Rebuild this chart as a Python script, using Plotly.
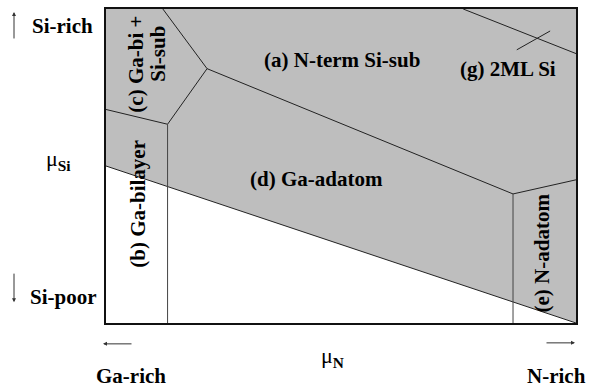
import plotly.graph_objects as go

# Phase diagram boundaries (mu_N on x, mu_Si on y, normalized units)
gray_region_x = [0.0, 1.0, 1.0, 0.0]
gray_region_y = [0.50, 0.0, 1.0, 1.0]

lower_x = [0.0, 1.0]
lower_y = [0.50, 0.0]

b_d_x = [0.131, 0.131]
b_d_y = [0.0, 0.633]

b_c_x = [0.0, 0.131, 0.215, 0.121]
b_c_y = [0.680, 0.633, 0.810, 1.0]

a_d_x = [0.215, 0.866, 1.0]
a_d_y = [0.810, 0.411, 0.456]

d_e_x = [0.866, 0.866]
d_e_y = [0.0, 0.411]

a_g_x = [0.760, 1.0]
a_g_y = [1.0, 0.858]

cross_x = [0.874, 0.945]
cross_y = [0.870, 0.930]

FONT = "Liberation Serif, Times New Roman, Times, serif"
W, H = 591, 389
L, T, R, B = 106, 7, 576, 323


def px(x, y):
    return (x - L) / (R - L), (B - y) / (B - T)


fig = go.Figure()
fig.add_trace(go.Scatter(x=gray_region_x, y=gray_region_y, fill="toself",
                         fillcolor="rgb(190,190,190)", line=dict(width=0),
                         mode="lines", hoverinfo="skip"))
line_style = dict(color="#222222", width=1)
for xs, ys in [(lower_x, lower_y), (b_c_x, b_c_y), (a_d_x, a_d_y),
               (a_g_x, a_g_y), (cross_x, cross_y)]:
    fig.add_trace(go.Scatter(x=xs, y=ys, mode="lines", line=line_style,
                             hoverinfo="skip"))
for xs, ys in [(b_d_x, b_d_y), (d_e_x, d_e_y)]:
    fig.add_trace(go.Scatter(x=xs, y=ys, mode="lines", hoverinfo="skip",
                             line=dict(color="#444444", width=1)))

annotations = []


def text(s, x, y, size=21, angle=0, bold=True):
    xp, yp = px(x, y)
    annotations.append(dict(text=("<b>%s</b>" % s) if bold else s,
                            x=xp, y=yp, xref="paper", yref="paper",
                            showarrow=False, textangle=angle,
                            font=dict(family=FONT, size=size, color="black"),
                            xanchor="center", yanchor="middle"))


text("(a) N-term Si-sub", 342, 58)
text("(g) 2ML Si", 508, 67)
text("(d) Ga-adatom", 316, 178)
text("(c) Ga-bi +", 136, 63, angle=-90)
text("Si-sub", 158, 52, angle=-90)
text("(b) Ga-bilayer", 138, 203, angle=-90)
text("(e) N-adatom", 542, 253, angle=-90)

text("Si-rich", 62, 24)
text("Si-poor", 63, 297)
text("μ<sub><b>Si</b></sub>", 58, 159, size=22, bold=False)
text("μ<sub><b>N</b></sub>", 332, 357, size=22, bold=False)
text("Ga-rich", 131, 376)
text("N-rich", 556, 376)


def arrow(x0, y0, x1, y1):
    xb, yb = px(x1, y1)
    annotations.append(dict(x=xb, y=yb, ax=x0 - x1, ay=y0 - y1,
                            xref="paper", yref="paper",
                            axref="pixel", ayref="pixel", text="", showarrow=True,
                            arrowhead=2, arrowsize=0.8, arrowwidth=1,
                            arrowcolor="#333333"))


arrow(14, 38, 14, 10)
arrow(14, 272, 14, 302)
arrow(133, 344, 103, 344)
arrow(545, 343, 575, 343)

fig.update_layout(
    width=W, height=H,
    margin=dict(l=L, r=W - R, t=T, b=H - B),
    paper_bgcolor="white", plot_bgcolor="white",
    showlegend=False,
    annotations=annotations,
    xaxis=dict(range=[0, 1], showgrid=False, zeroline=False, showticklabels=False,
               ticks="", showline=True, mirror=True, linecolor="#111111", linewidth=1.5),
    yaxis=dict(range=[0, 1], showgrid=False, zeroline=False, showticklabels=False,
               ticks="", showline=True, mirror=True, linecolor="#111111", linewidth=2),
)
fig.write_html("out.html", config={"displayModeBar": False})

with open("out.html", "r", encoding="utf-8") as f:
    html = f.read()
html = html.replace("<head>", "<head><style>html,body{margin:0;padding:0;overflow:hidden;}</style>", 1)
with open("out.html", "w", encoding="utf-8") as f:
    f.write(html)
